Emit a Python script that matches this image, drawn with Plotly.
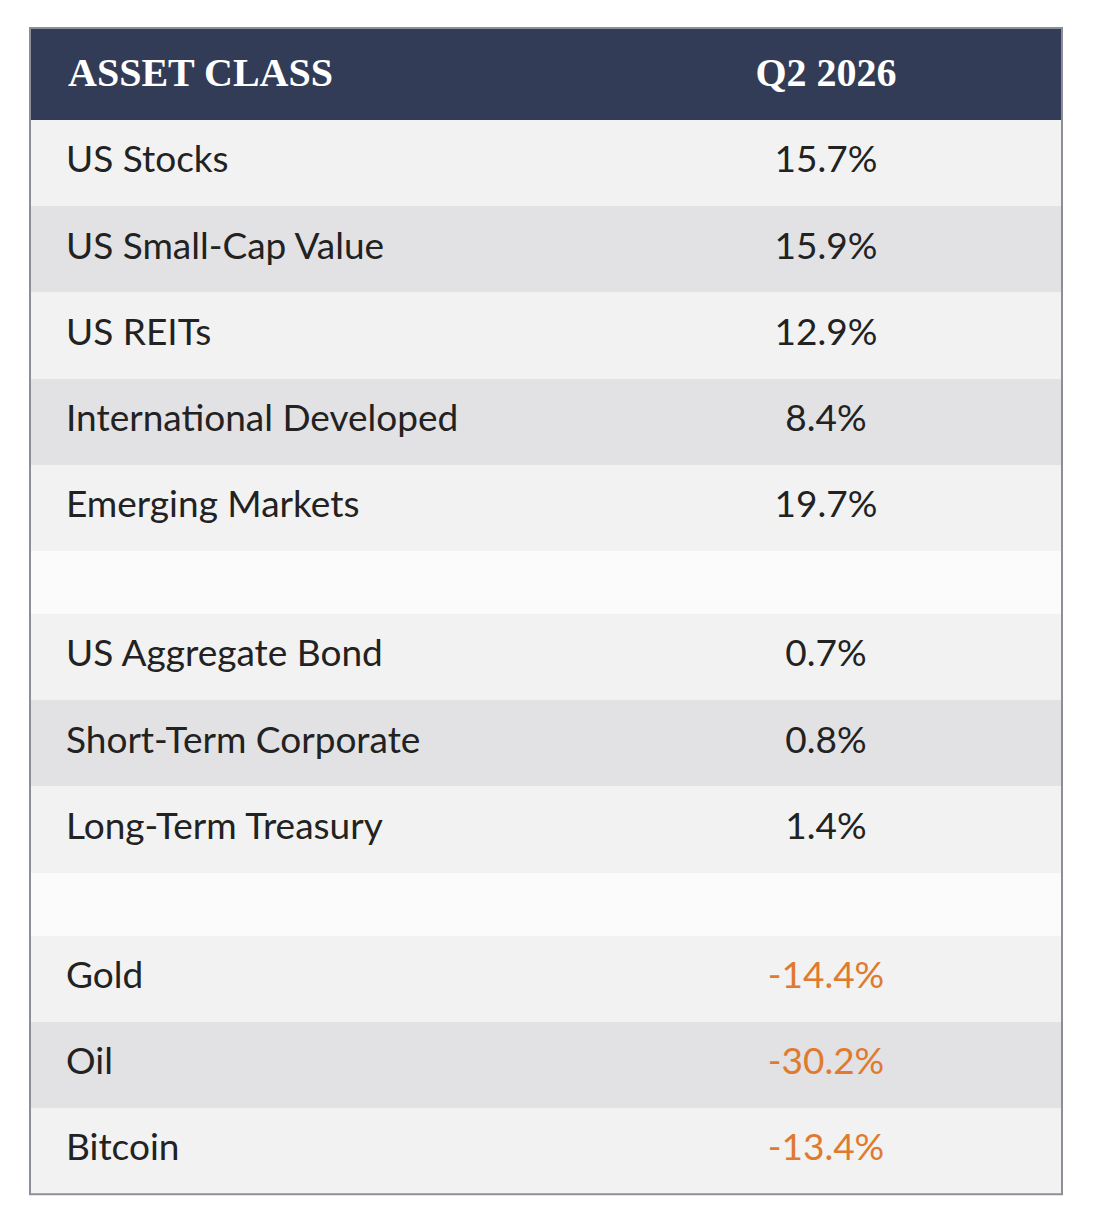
import plotly.graph_objects as go

headers = ["ASSET CLASS", "Q2 2026"]
assets = ["US Stocks", "US Small-Cap Value", "US REITs", "International Developed",
          "Emerging Markets", None, "US Aggregate Bond", "Short-Term Corporate",
          "Long-Term Treasury", None, "Gold", "Oil", "Bitcoin"]
returns = [15.7, 15.9, 12.9, 8.4, 19.7, None, 0.7, 0.8, 1.4, None, -14.4, -30.2, -13.4]

W, H = 1094, 1226
OFF = 8  # page body margin
LEFT, RIGHT, TOP, HEAD_H = 30, 1062, 28, 92
ROW_H, GAP_H = 86.2, 63
NAVY = "#323c56"
ORANGE = "#e07a2e"
TEXT = "#222222"

# row geometry
centers, heights, fills = [], [], []
y = TOP + HEAD_H
stripe = 0
for a in assets:
    if a is None:
        h = GAP_H
        fills.append("#fbfbfb")
        stripe = 0
    else:
        h = ROW_H
        fills.append("#f2f2f2" if stripe % 2 == 0 else "#e2e1e4")
        stripe += 1
    centers.append(y + h / 2)
    heights.append(h)
    y += h
bottom = y

fig = go.Figure()
fig.add_trace(go.Bar(
    orientation="h", base=[LEFT] * (len(assets) + 1),
    x=[RIGHT - LEFT] * (len(assets) + 1),
    y=[TOP + HEAD_H / 2] + centers, width=[HEAD_H] + heights,
    marker=dict(color=[NAVY] + fills, line=dict(width=0)),
    hoverinfo="skip", showlegend=False))

fig.add_trace(go.Scatter(
    x=[68], y=[TOP + HEAD_H / 2 + 2], mode="text", text=[headers[0]],
    textposition="middle right",
    textfont=dict(family="Liberation Serif", size=40, color="white", weight="bold"),
    hoverinfo="skip", showlegend=False))
fig.add_trace(go.Scatter(
    x=[826], y=[TOP + HEAD_H / 2 + 2], mode="text", text=[headers[1]],
    textposition="middle center",
    textfont=dict(family="Liberation Serif", size=40, color="white", weight="bold"),
    hoverinfo="skip", showlegend=False))

lab_y = [c for a, c in zip(assets, centers) if a is not None]
labs = [a for a in assets if a is not None]
vals = [r for r in returns if r is not None]
fig.add_trace(go.Scatter(
    x=[66] * len(labs), y=lab_y, mode="text", text=labs, textposition="middle right",
    textfont=dict(family="Lato", size=37, color=TEXT),
    hoverinfo="skip", showlegend=False))
fig.add_trace(go.Scatter(
    x=[826] * len(vals), y=lab_y, mode="text", text=[f"{v:.1f}%" for v in vals],
    textposition="middle center",
    textfont=dict(family="Lato", size=37, color=[ORANGE if v < 0 else TEXT for v in vals]),
    hoverinfo="skip", showlegend=False))

fig.add_shape(type="rect", x0=LEFT, x1=RIGHT, y0=TOP, y1=bottom,
              line=dict(color="#8a8f99", width=2), fillcolor="rgba(0,0,0,0)")

fig.update_layout(
    width=W, height=H, margin=dict(l=0, r=0, t=0, b=0),
    paper_bgcolor="white", plot_bgcolor="white", bargap=0,
    xaxis=dict(range=[OFF, W + OFF], visible=False, fixedrange=True),
    yaxis=dict(range=[H + OFF, OFF], visible=False, fixedrange=True),
)
fig.write_html("out.html")
